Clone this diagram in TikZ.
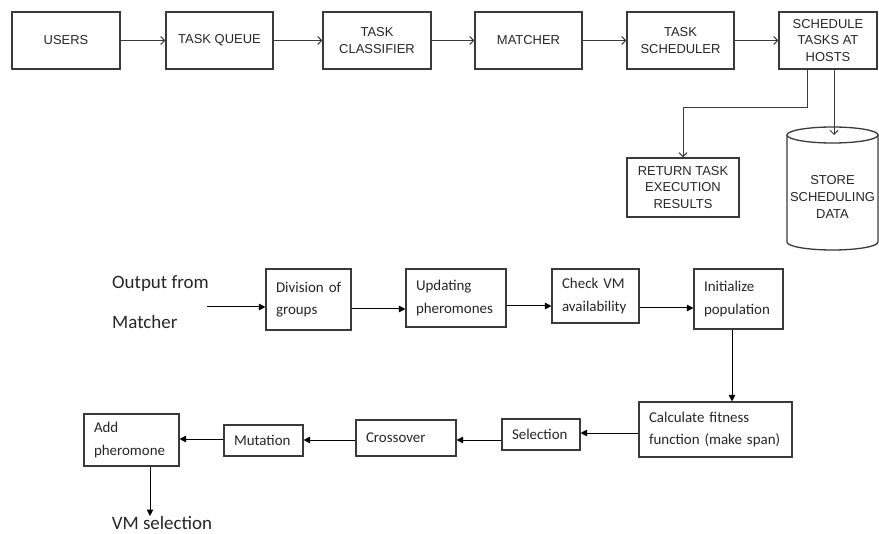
\documentclass[tikz,border=0pt]{standalone}
\usepackage{fontspec}
\setmainfont{Liberation Sans}
\newfontfamily\carlitofont{Carlito}
\usetikzlibrary{arrows.meta}
\definecolor{linegray}{HTML}{3A3A3A}
\definecolor{txtgray}{HTML}{262626}
\tikzset{
  topbox/.style={draw=linegray, line width=1.3bp, text=txtgray,
    font=\fontsize{13}{17}\selectfont, align=center, inner sep=0pt},
  toparrow/.style={draw=linegray, line width=1bp, -{Straight Barb[length=4bp,width=8bp]}},
  botbox/.style={draw=linegray, line width=1.1bp, text=txtgray,
    font=\carlitofont\fontsize{15}{22.5}\selectfont, align=left,
    inner xsep=10bp, inner ysep=0pt},
  botarrow/.style={draw=black, line width=1bp, -{Triangle[length=6.5bp,width=6.5bp]}},
  bigtext/.style={text=txtgray, font=\carlitofont\fontsize{19}{40}\selectfont, align=left, inner sep=0pt}
}
\begin{document}
\begin{tikzpicture}[x=1bp,y=-1bp]
\useasboundingbox[fill=white] (0,0) rectangle (879,534);

% ---------- top flow ----------
\node[topbox, minimum width=108bp, minimum height=57bp] (users) at (66,40.5) {USERS};
\node[topbox, minimum width=107bp, minimum height=57bp] (queue) at (219.5,40.5) {TASK QUEUE};
\node[topbox, minimum width=108bp, minimum height=57bp] (classifier) at (377,40.5) {TASK\\CLASSIFIER};
\node[topbox, minimum width=107bp, minimum height=57bp] (matcher) at (528.5,40.5) {MATCHER};
\node[topbox, minimum width=107bp, minimum height=57bp] (scheduler) at (680.5,40.5) {TASK\\SCHEDULER};
\node[topbox, minimum width=98bp, minimum height=57bp] (hosts) at (828,40.5) {SCHEDULE\\TASKS AT\\HOSTS};
\node[topbox, minimum width=112bp, minimum height=59bp] (ret) at (683,187.5) {RETURN TASK\\EXECUTION\\RESULTS};

% cylinder
\draw[draw=linegray, line width=1.3bp] (787,135) -- (787,242)
  arc[start angle=180, end angle=360, x radius=45.5bp, y radius=8bp] -- (878,135);
\draw[draw=linegray, line width=1.3bp] (832.5,135) ellipse [x radius=45.5bp, y radius=8bp];
\node[topbox, draw=none] (store) at (832.5,197) {STORE\\SCHEDULING\\DATA};
\coordinate (dbtop) at (834,135);

\draw[toparrow] (users) -- (queue);
\draw[toparrow] (queue) -- (classifier);
\draw[toparrow] (classifier) -- (matcher);
\draw[toparrow] (matcher) -- (scheduler);
\draw[toparrow] (scheduler) -- (hosts);
\draw[toparrow] ([xshift=-21bp]hosts.south) -- ++(0,38) -| (ret.north);
\draw[toparrow] (hosts.south -| dbtop) -- (dbtop);

% ---------- bottom flow ----------
\node[bigtext, anchor=west] (output) at (112,302) {Output from\\Matcher};
\coordinate (in) at (207,307);

\node[botbox, text width=65bp, minimum height=61bp] (div) at (308.5,299.5) {\mbox{Division of}\\groups};
\node[botbox, text width=80bp, minimum height=58bp] (upd) at (456,298) {Updating\\\mbox{pheromones}};
\node[botbox, text width=67bp, minimum height=54bp] (chk) at (595.5,296) {\mbox{Check VM}\\\mbox{availability}};
\node[botbox, text width=69bp, minimum height=60bp] (init) at (738.5,299) {Initialize\\\mbox{population}};
\node[botbox, text width=133bp, minimum height=55bp] (calc) at (715.5,429.5) {\mbox{Calculate fitness}\\\mbox{function (make span)}};
\node[botbox, text width=58bp, minimum height=31bp] (sel) at (541,434.5) {Selection};
\node[botbox, text width=80bp, minimum height=36bp] (cross) at (406,438) {Crossover};
\node[botbox, text width=59bp, minimum height=31bp] (mut) at (263.5,440.5) {Mutation};
\node[botbox, text width=75bp, minimum height=52bp] (add) at (131.5,440) {Add\\\mbox{pheromone}};
\node[bigtext, anchor=north] (vm) at (162,516) {VM selection};

\draw[botarrow] (in) -- (in -| div.west);
\draw[botarrow] (div.east |- 0,309) -- (upd.west |- 0,309);
\draw[botarrow] (upd.east |- 0,306) -- (chk.west |- 0,306);
\draw[botarrow] (chk.east |- 0,308) -- (init.west |- 0,308);
\draw[botarrow] (init.south -| 732,0) -- (calc.north -| 732,0);
\draw[botarrow] (calc.west |- 0,433) -- (sel.east |- 0,433);
\draw[botarrow] (sel.west |- 0,440) -- (cross.east |- 0,440);
\draw[botarrow] (cross.west |- 0,440) -- (mut.east |- 0,440);
\draw[botarrow] (mut.west |- 0,439) -- (add.east |- 0,439);
\draw[botarrow] (add.south -| 150,0) -- (vm.north -| 150,0);
\end{tikzpicture}
\end{document}
